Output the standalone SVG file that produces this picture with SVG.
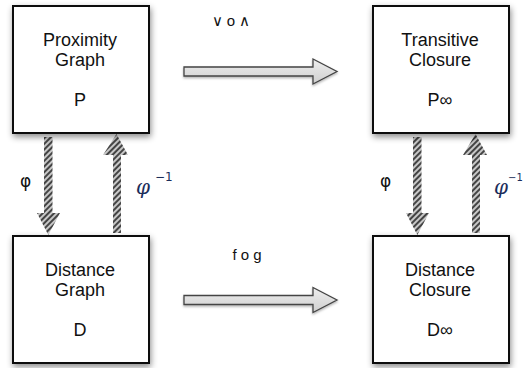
<svg xmlns="http://www.w3.org/2000/svg" width="527" height="368" viewBox="0 0 527 368">
<style>
.box{fill:#fff;stroke:#111;stroke-width:2;filter:url(#sh)}
.t{font-family:"Liberation Sans",Arial,sans-serif;font-size:18px;fill:#111;text-anchor:middle}
.lbl{font-family:"Liberation Sans",Arial,sans-serif;font-size:15px;fill:#111;text-anchor:middle}
.harrow{fill:url(#hg);stroke:#444;stroke-width:1.3;filter:url(#sh2)}
.varrow{fill:url(#hatch);stroke:none}
.phi{font-family:"DejaVu Sans","Liberation Sans",sans-serif;font-size:17px;fill:#111}
.phiinv{font-family:"DejaVu Serif","Liberation Serif",serif;font-style:italic;font-size:20px;fill:#1b2d5a}
.sup{font-family:"DejaVu Sans","Liberation Sans",sans-serif;font-size:12px;fill:#1b2d5a}
.supr{font-family:"DejaVu Sans","Liberation Sans",sans-serif;font-size:10px;fill:#1b2d5a}
</style>
<defs>
<filter id="sh" x="-20%" y="-20%" width="140%" height="140%">
<feDropShadow dx="1" dy="3" stdDeviation="3" flood-color="#000" flood-opacity="0.45"/>
</filter>
<filter id="sh2" x="-20%" y="-50%" width="140%" height="200%">
<feDropShadow dx="0" dy="1.5" stdDeviation="1.2" flood-color="#000" flood-opacity="0.3"/>
</filter>
<linearGradient id="hg" x1="0" y1="0" x2="0" y2="1">
<stop offset="0" stop-color="#eeeeee"/>
<stop offset="1" stop-color="#cfcfcf"/>
</linearGradient>
<pattern id="hatch" width="4" height="4" patternUnits="userSpaceOnUse" patternTransform="rotate(-45)">
<rect width="4" height="4" fill="#c8c8c8"/>
<rect width="4" height="2" fill="#444"/>
</pattern>
</defs>
<g id="connectors">
<path class="harrow" d="M184,67 H313 V59 L337,71.5 L313,84 V76 H184 Z"/>
<path class="harrow" d="M184,295.5 H313 V287.5 L337,300 L313,312.5 V304.5 H184 Z"/>
<path class="varrow" d="M44,137 H52.5 V213 H60 L48.3,235 L37,213 H44 Z"/>
<path class="varrow" d="M113,233 H121 V155 H128 L116.5,134 L103,155 H113 Z"/>
<path class="varrow" d="M413,137 H421.5 V213 H429 L417.3,235 L406,213 H413 Z"/>
<path class="varrow" d="M472,233 H480 V155 H487 L475.5,134 L463,155 H472 Z"/>
<text class="lbl" x="231" y="26">∨ o ∧</text>
<text class="lbl" x="247" y="260">f o g</text>
<text class="phi" x="20" y="187">φ</text>
<text class="phiinv" x="136" y="194">φ</text><text class="sup" x="155" y="181">−1</text>
<text class="phi" x="380" y="187">φ</text>
<text class="phiinv" x="494" y="194">φ</text><text class="supr" x="508" y="181">−1</text>
</g>
<g id="proximity">
<rect class="box" x="13" y="6" width="136" height="127"/>
<text class="t" x="80" y="46">Proximity</text>
<text class="t" x="80" y="66">Graph</text>
<text class="t" x="80" y="106">P</text>
</g>
<g id="transitive">
<rect class="box" x="373" y="6" width="136" height="127"/>
<text class="t" x="440" y="46">Transitive</text>
<text class="t" x="440" y="66">Closure</text>
<text class="t" x="440" y="106">P∞</text>
</g>
<g id="distance-graph">
<rect class="box" x="13" y="236" width="136" height="127"/>
<text class="t" x="80" y="276">Distance</text>
<text class="t" x="80" y="296">Graph</text>
<text class="t" x="80" y="336">D</text>
</g>
<g id="distance-closure">
<rect class="box" x="373" y="236" width="136" height="127"/>
<text class="t" x="440" y="276">Distance</text>
<text class="t" x="440" y="296">Closure</text>
<text class="t" x="440" y="336">D∞</text>
</g>
</svg>
